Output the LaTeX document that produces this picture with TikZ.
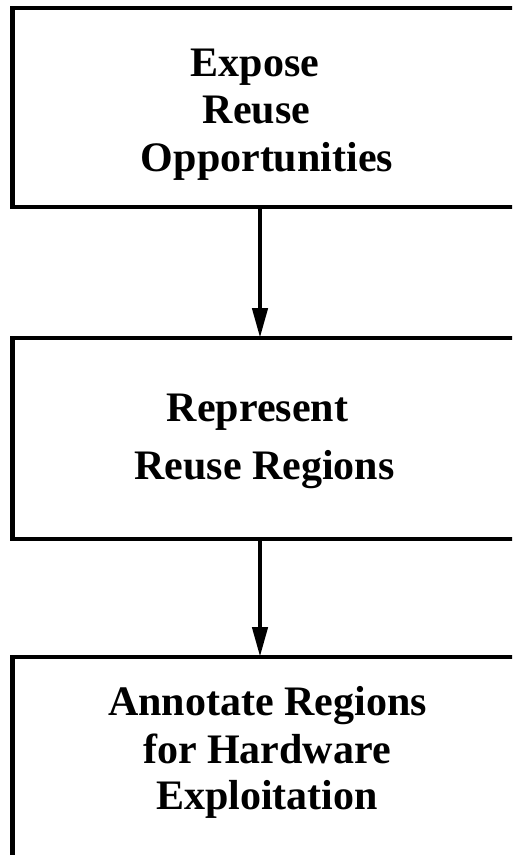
\documentclass[tikz,border=0pt]{standalone}
\usepackage{fontspec}
\setmainfont{Liberation Serif}
\usetikzlibrary{arrows.meta}

\tikzset{
  stagebox/.style={draw=black, line width=4.5pt, fill=none, inner sep=0pt,
                   outer sep=0pt, minimum width=509.5pt},
  stageline/.style={anchor=base, inner sep=0pt, outer sep=0pt,
                    font=\fontsize{42}{47.5}\selectfont\bfseries},
  flow/.style={line width=4.5pt, -{Triangle[length=30pt, width=15pt]}},
}

\begin{document}
\begin{tikzpicture}[x=1pt, y=-1pt]
  \clip (0,0) rectangle (512,855);

  % three stages, stacked vertically
  \node[stagebox, minimum height=199pt] (b1) at (267.25,107.5) {};
  \node[stagebox, minimum height=201pt] (b2) at (267.25,438.5) {};
  \node[stagebox, minimum height=200pt] (b3) at (267.25,757) {};

  % stage labels, one node per line
  \node[stageline] (t1a) at (255,76.7)  {Expose};
  \node[stageline] (t1b) at (256.5,123) {Reuse};
  \node[stageline] (t1c) at (267,171.7) {Opportunities};

  \node[stageline] (t2a) at (257.5,421.7) {Represent};
  \node[stageline] (t2b) at (264.5,479)   {Reuse Regions};

  \node[stageline] (t3a) at (267.5,715) {Annotate Regions};
  \node[stageline] (t3b) at (267,763)   {for Hardware};
  \node[stageline] (t3c) at (267,809)   {Exploitation};

  % connectors between stages
  \coordinate (ax) at (260,0);
  \draw[flow] (b1.south -| ax) -- (b2.north -| ax);
  \draw[flow] (b2.south -| ax) -- (b3.north -| ax);
\end{tikzpicture}
\end{document}
